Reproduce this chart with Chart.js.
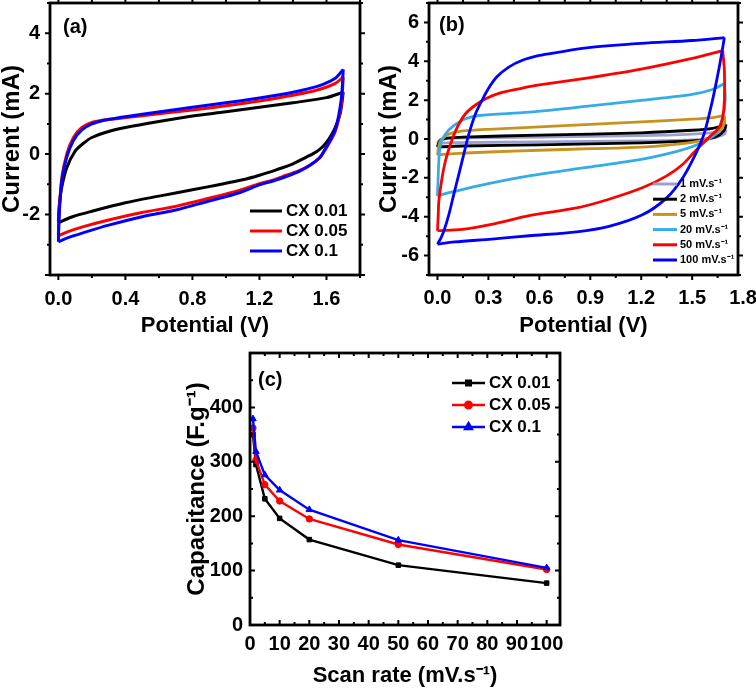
<!DOCTYPE html>
<html><head><meta charset="utf-8">
<script src="https://cdn.jsdelivr.net/npm/chart.js@4/dist/chart.umd.min.js"></script>
<style>
html,body{margin:0;padding:0;background:#fff;}
#wrap{position:relative;width:756px;height:688px;background:#fff;}
canvas{position:absolute;left:0;top:0;}
</style></head><body>
<div id="wrap">
<canvas id="ca" width="756" height="688"></canvas>
<canvas id="cb" width="756" height="688"></canvas>
<canvas id="cc" width="756" height="688"></canvas>
</div>
<script>
// ---------------- DATA ----------------
// Panel (a): CV curves (Potential V, Current mA), forward and reverse sweeps
const aNames = ['CX 0.01', 'CX 0.05', 'CX 0.1'];
const a001_fwdV = [0, 0.005, 0.02, 0.05, 0.1, 0.15, 0.2, 0.3, 0.4, 0.6, 0.8, 1.0, 1.2, 1.4, 1.6, 1.7];
const a001_fwdI = [-2.27, -1.7, -1.1, -0.45, 0.1, 0.36, 0.55, 0.75, 0.88, 1.08, 1.26, 1.40, 1.55, 1.70, 1.87, 2.05];
const a001_revV = [1.7, 1.69, 1.68, 1.65, 1.62, 1.58, 1.54, 1.48, 1.4, 1.3, 1.2, 1.1, 0.95, 0.8, 0.6, 0.4, 0.2, 0.08, 0];
const a001_revI = [2.05, 1.6, 1.3, 0.85, 0.55, 0.26, 0.08, -0.1, -0.32, -0.52, -0.7, -0.85, -1.02, -1.18, -1.39, -1.61, -1.89, -2.08, -2.27];
const a005_fwdV = [0, 0.005, 0.02, 0.05, 0.09, 0.14, 0.2, 0.28, 0.36, 0.5, 0.8, 1.0, 1.2, 1.4, 1.55, 1.65, 1.7];
const a005_fwdI = [-2.7, -1.9, -0.8, 0.0, 0.55, 0.88, 1.05, 1.14, 1.18, 1.27, 1.46, 1.6, 1.76, 1.95, 2.13, 2.33, 2.55];
const a005_revV = [1.7, 1.69, 1.67, 1.65, 1.62, 1.59, 1.56, 1.5, 1.44, 1.36, 1.28, 1.2, 1.08, 0.9, 0.7, 0.5, 0.3, 0.15, 0.05, 0];
const a005_revI = [2.55, 1.7, 1.1, 0.72, 0.4, 0.12, -0.12, -0.37, -0.54, -0.7, -0.86, -0.98, -1.2, -1.46, -1.73, -1.93, -2.18, -2.4, -2.58, -2.7];
const a01_fwdV = [0, 0.005, 0.02, 0.05, 0.09, 0.14, 0.2, 0.28, 0.36, 0.5, 0.8, 1.0, 1.2, 1.4, 1.55, 1.65, 1.7];
const a01_fwdI = [-2.9, -2.0, -0.9, -0.1, 0.45, 0.8, 1.0, 1.13, 1.2, 1.32, 1.55, 1.7, 1.86, 2.05, 2.25, 2.5, 2.8];
const a01_revV = [1.7, 1.69, 1.67, 1.65, 1.62, 1.59, 1.56, 1.5, 1.44, 1.36, 1.28, 1.2, 1.08, 0.9, 0.7, 0.5, 0.3, 0.15, 0.05, 0];
const a01_revI = [2.8, 1.9, 1.2, 0.78, 0.44, 0.15, -0.11, -0.38, -0.56, -0.74, -0.89, -1.02, -1.28, -1.55, -1.85, -2.07, -2.35, -2.6, -2.78, -2.9];
const aXTicks = [0.0, 0.4, 0.8, 1.2, 1.6];
const aYTicks = [-2, 0, 2, 4];

// Panel (b): CV of CX 0.1 at several scan rates
const bNames = ['1 mV.s\u207B\u00B9', '2 mV.s\u207B\u00B9', '5 mV.s\u207B\u00B9', '20 mV.s\u207B\u00B9', '50 mV.s\u207B\u00B9', '100 mV.s\u207B\u00B9'];
const b1_fwdV = [0, 0.005, 0.02, 0.08, 0.6, 1.2, 1.5, 1.65, 1.7];
const b1_fwdI = [-0.22, -0.12, -0.02, 0.04, 0.1, 0.17, 0.25, 0.35, 0.48];
const b1_revV = [1.7, 1.69, 1.62, 1.5, 1.2, 0.6, 0.1, 0];
const b1_revI = [0.48, 0.25, 0.05, -0.05, -0.1, -0.15, -0.19, -0.22];
const b2_fwdV = [0, 0.005, 0.02, 0.06, 0.15, 0.6, 1.2, 1.5, 1.62, 1.7];
const b2_fwdI = [-0.42, -0.25, -0.05, 0.05, 0.1, 0.2, 0.32, 0.45, 0.55, 0.75];
const b2_revV = [1.7, 1.69, 1.65, 1.58, 1.5, 1.2, 0.6, 0.15, 0.03, 0];
const b2_revI = [0.75, 0.45, 0.15, -0.02, -0.1, -0.2, -0.3, -0.36, -0.4, -0.42];
const b5_fwdV = [0, 0.005, 0.015, 0.04, 0.07, 0.14, 0.3, 0.6, 0.9, 1.2, 1.5, 1.62, 1.69];
const b5_fwdI = [-0.83, -0.5, -0.15, 0.1, 0.26, 0.4, 0.5, 0.62, 0.75, 0.88, 1.02, 1.1, 1.21];
const b5_revV = [1.69, 1.69, 1.66, 1.6, 1.5, 1.2, 0.9, 0.6, 0.3, 0.1, 0.02, 0];
const b5_revI = [1.21, 0.8, 0.4, 0.05, -0.17, -0.42, -0.5, -0.58, -0.67, -0.75, -0.8, -0.83];
const b20_fwdV = [0, 0.003, 0.008, 0.018, 0.047, 0.096, 0.165, 0.244, 0.54, 0.9, 1.2, 1.5, 1.62, 1.69];
const b20_fwdI = [-2.94, -2.2, -1.12, -0.26, 0.26, 0.69, 1.04, 1.21, 1.38, 1.7, 1.99, 2.3, 2.55, 2.85];
const b20_revV = [1.69, 1.695, 1.68, 1.64, 1.56, 1.5, 1.4, 1.2, 0.89, 0.54, 0.3, 0.1, 0.02, 0];
const b20_revI = [2.85, 2.0, 1.12, 0.26, -0.17, -0.4, -0.66, -1.05, -1.45, -1.9, -2.3, -2.7, -2.88, -2.94];
const b50_fwdV = [0, 0.004, 0.008, 0.027, 0.047, 0.077, 0.116, 0.165, 0.224, 0.29, 0.38, 0.5, 0.6, 0.89, 1.2, 1.5, 1.68];
const b50_fwdI = [-4.72, -4.0, -3.2, -1.99, -1.12, -0.26, 0.6, 1.3, 1.75, 2.1, 2.4, 2.62, 2.78, 3.15, 3.6, 4.15, 4.55];
const b50_revV = [1.68, 1.69, 1.69, 1.68, 1.66, 1.6, 1.52, 1.445, 1.35, 1.21, 1.01, 0.82, 0.54, 0.34, 0.145, 0];
const b50_revI = [4.55, 3.5, 2.0, 1.12, 0.6, 0.09, -0.6, -1.3, -1.9, -2.5, -3.1, -3.55, -3.95, -4.35, -4.65, -4.72];
const b100_fwdV = [0, 0.02, 0.037, 0.067, 0.096, 0.126, 0.155, 0.185, 0.224, 0.263, 0.3, 0.35, 0.42, 0.5, 0.6, 0.7, 0.89, 1.2, 1.5, 1.69];
const b100_fwdI = [-5.41, -5.1, -4.75, -3.89, -2.85, -1.81, -0.78, 0.26, 1.3, 2.0, 2.6, 3.2, 3.7, 4.05, 4.3, 4.45, 4.7, 4.92, 5.07, 5.22];
const b100_revV = [1.69, 1.66, 1.62, 1.57, 1.52, 1.445, 1.35, 1.21, 1.01, 0.82, 0.54, 0.32, 0.1, 0];
const b100_revI = [5.22, 3.72, 2.0, 0.26, -0.78, -1.99, -3.03, -3.89, -4.5, -4.78, -4.98, -5.15, -5.3, -5.41];
const bXTicks = [0.0, 0.3, 0.6, 0.9, 1.2, 1.5, 1.8];
const bYTicks = [-6, -4, -2, 0, 2, 4, 6];

// Panel (c): specific capacitance vs scan rate
const cNames = ['CX 0.01', 'CX 0.05', 'CX 0.1'];
const scanRates = [1, 2, 5, 10, 20, 50, 100];
const capCX001 = [350, 295, 232, 196, 157, 110, 77];
const capCX005 = [362, 303, 258, 228, 195, 148, 102];
const capCX01  = [379, 319, 276, 248, 212, 156, 105];
const cXTicks = [0, 10, 20, 30, 40, 50, 60, 70, 80, 90, 100];
const cYTicks = [0, 100, 200, 300, 400];

// ---------------- STYLE / HELPERS ----------------
const FONT = '"Liberation Sans", Arial, Helvetica, sans-serif';
Chart.defaults.font.family = FONT;
Chart.defaults.color = '#000';

const pts = (V, I) => V.map((v, k) => ({ x: v, y: I[k] }));

const frame = {
  id: 'frame',
  afterDatasetsDraw(chart, args, o) {
    const { ctx, chartArea: ca, scales } = chart;
    const xs = scales.x, ys = scales.y;
    const d = o.inward ? -1 : 1;
    const vals = (s, step) => {
      const out = [];
      for (let v = Math.ceil((s.min - 1e-9) / step) * step; v <= s.max + 1e-9; v += step) out.push(+v.toFixed(6));
      return out;
    };
    ctx.save();
    ctx.strokeStyle = '#000';
    ctx.lineWidth = o.tickWidth;
    ctx.beginPath();
    [[o.xMajor, o.majorLen], [o.xMinor, o.minorLen]].forEach(([st, len]) => {
      vals(xs, st).forEach(v => {
        const p = xs.getPixelForValue(v);
        ctx.moveTo(p, ca.bottom); ctx.lineTo(p, ca.bottom + d * len);
        ctx.moveTo(p, ca.top); ctx.lineTo(p, ca.top - d * len);
      });
    });
    [[o.yMajor, o.majorLen], [o.yMinor, o.minorLen]].forEach(([st, len]) => {
      vals(ys, st).forEach(v => {
        const p = ys.getPixelForValue(v);
        ctx.moveTo(ca.left, p); ctx.lineTo(ca.left - d * len, p);
        ctx.moveTo(ca.right, p); ctx.lineTo(ca.right + d * len, p);
      });
    });
    ctx.stroke();
    ctx.lineWidth = o.borderWidth;
    ctx.strokeRect(ca.left, ca.top, ca.right - ca.left, ca.bottom - ca.top);
    ctx.restore();
  }
};

const annot = {
  id: 'annot',
  afterDraw(chart, args, o) {
    const ctx = chart.ctx;
    ctx.save();
    ctx.fillStyle = '#000';
    ctx.textBaseline = 'middle';
    ctx.textAlign = 'left';
    ctx.font = `bold ${o.labelSize}px ${FONT}`;
    ctx.fillText(o.label, o.lx, o.ly);
    const items = chart.data.datasets.filter(ds => ds.legendLabel);
    items.forEach((ds, i) => {
      const yy = o.y0 + i * o.dy;
      ctx.strokeStyle = ds.borderColor;
      ctx.lineWidth = o.lw;
      ctx.beginPath(); ctx.moveTo(o.x0, yy); ctx.lineTo(o.x1, yy); ctx.stroke();
      if (ds.pointStyle && ds.pointRadius > 0) {
        ctx.fillStyle = ds.borderColor;
        Chart.helpers.drawPoint(ctx, { pointStyle: ds.pointStyle, radius: ds.pointRadius, rotation: 0, borderWidth: 1 }, (o.x0 + o.x1) / 2, yy);
      }
      ctx.fillStyle = '#000';
      ctx.font = `bold ${o.fontSize}px ${FONT}`;
      ctx.fillText(ds.legendLabel, o.tx, yy);
    });
    ctx.restore();
  }
};

function axes(cfg) {
  const tickFont = { size: 20, weight: 'bold' };
  const titleFont = { size: cfg.titleSize || 22, weight: 'bold', lineHeight: 1 };
  return {
    x: {
      type: 'linear', min: cfg.xmin, max: cfg.xmax,
      grid: { display: false, drawTicks: false, tickLength: 0 }, border: { display: false },
      afterBuildTicks: s => { s.ticks = cfg.xTicks.map(v => ({ value: v })); },
      afterFit: s => { s.height = cfg.xH; s.paddingLeft = 0; s.paddingRight = 0; },
      ticks: { font: tickFont, color: '#000', padding: cfg.xPad, autoSkip: false, maxRotation: 0, minRotation: 0, callback: cfg.xFmt },
      title: { display: true, text: cfg.xTitle, font: titleFont, color: '#000', padding: { top: 0, bottom: cfg.xTitlePad } }
    },
    y: {
      type: 'linear', min: cfg.ymin, max: cfg.ymax,
      grid: { display: false, drawTicks: false, tickLength: 0 }, border: { display: false },
      afterBuildTicks: s => { s.ticks = cfg.yTicks.map(v => ({ value: v })); },
      afterFit: s => { s.width = cfg.yW; s.paddingTop = 0; s.paddingBottom = 0; },
      ticks: { font: tickFont, color: '#000', padding: cfg.yPad, autoSkip: false, callback: v => String(v) },
      title: { display: true, text: cfg.yTitle, font: { size: cfg.yTitleSize || 24, weight: 'bold', lineHeight: 1 }, color: '#000', padding: { top: cfg.yTitlePad, bottom: 0 } }
    }
  };
}

function loopSets(name, color, fV, fI, rV, rI, lw, order) {
  const base = { showLine: true, pointRadius: 0, borderColor: color, backgroundColor: color, borderWidth: lw, tension: 0.3, order: order, fill: false };
  return [
    Object.assign({ data: pts(fV, fI), legendLabel: name }, base),
    Object.assign({ data: pts(rV, rI) }, base)
  ];
}

const common = { responsive: false, animation: false, devicePixelRatio: 1, events: [] };

// ---------------- PANEL (a) ----------------
new Chart(document.getElementById('ca'), {
  type: 'scatter',
  data: { datasets: [
    ...loopSets(aNames[0], '#000000', a001_fwdV, a001_fwdI, a001_revV, a001_revI, 3, 3),
    ...loopSets(aNames[1], '#ff0000', a005_fwdV, a005_fwdI, a005_revV, a005_revI, 3, 2),
    ...loopSets(aNames[2], '#0000ff', a01_fwdV, a01_fwdI, a01_revV, a01_revI, 3, 1)
  ]},
  options: Object.assign({}, common, {
    layout: { padding: { left: 0, right: 396, top: 3, bottom: 350 } },
    scales: axes({ xmin: -0.05, xmax: 1.8, ymin: -4, ymax: 5, xTicks: aXTicks, yTicks: aYTicks,
      xFmt: v => v.toFixed(1), xH: 63, yW: 50, xPad: 12, yPad: 10, xTitle: 'Potential (V)', xTitlePad: 1,
      yTitle: 'Current (mA)', yTitlePad: 0 }),
    plugins: { legend: { display: false }, tooltip: { enabled: false },
      frame: { inward: false, xMajor: 0.4, xMinor: 0.2, yMajor: 2, yMinor: 1, majorLen: 5, minorLen: 3, tickWidth: 2, borderWidth: 2.8 },
      annot: { label: '(a)', lx: 63, ly: 27, labelSize: 20, x0: 250, x1: 282, tx: 286, y0: 211, dy: 20, lw: 3, fontSize: 17 } }
  }),
  plugins: [frame, annot]
});

// ---------------- PANEL (b) ----------------
const bColors = ['#9a9fcf', '#000000', '#c8921e', '#35ace6', '#ff0000', '#0000ff'];
new Chart(document.getElementById('cb'), {
  type: 'scatter',
  data: { datasets: [
    ...loopSets(bNames[0], bColors[0], b1_fwdV, b1_fwdI, b1_revV, b1_revI, 2.8, 6),
    ...loopSets(bNames[1], bColors[1], b2_fwdV, b2_fwdI, b2_revV, b2_revI, 2.8, 5),
    ...loopSets(bNames[2], bColors[2], b5_fwdV, b5_fwdI, b5_revV, b5_revI, 2.8, 4),
    ...loopSets(bNames[3], bColors[3], b20_fwdV, b20_fwdI, b20_revV, b20_revI, 2.8, 3),
    ...loopSets(bNames[4], bColors[4], b50_fwdV, b50_fwdI, b50_revV, b50_revI, 2.8, 2),
    ...loopSets(bNames[5], bColors[5], b100_fwdV, b100_fwdI, b100_revV, b100_revI, 2.8, 1)
  ]},
  options: Object.assign({}, common, {
    layout: { padding: { left: 374, right: 18, top: 3, bottom: 350 } },
    scales: axes({ xmin: -0.05, xmax: 1.77, ymin: -7, ymax: 7, xTicks: bXTicks, yTicks: bYTicks,
      xFmt: v => v.toFixed(1), xH: 63, yW: 55, xPad: 11, yPad: 10, xTitle: 'Potential (V)', xTitlePad: 1,
      yTitle: 'Current (mA)', yTitlePad: 3 }),
    plugins: { legend: { display: false }, tooltip: { enabled: false },
      frame: { inward: false, xMajor: 0.3, xMinor: 0.15, yMajor: 2, yMinor: 1, majorLen: 5, minorLen: 3, tickWidth: 2, borderWidth: 2.8 },
      annot: { label: '(b)', lx: 439, ly: 25, labelSize: 20, x0: 653, x1: 677, tx: 680, y0: 184, dy: 15.2, lw: 3, fontSize: 11 } }
  }),
  plugins: [frame, annot]
});

// ---------------- PANEL (c) ----------------
const cSet = (name, color, vals, style, r, order) => ({
  data: pts(scanRates, vals), legendLabel: name, showLine: true, borderColor: color, backgroundColor: color,
  borderWidth: 2.4, pointStyle: style, pointRadius: r, pointBorderWidth: 1, tension: 0, order: order
});
new Chart(document.getElementById('cc'), {
  type: 'scatter',
  data: { datasets: [
    cSet(cNames[0], '#000000', capCX001, 'rect', 3.2, 3),
    cSet(cNames[1], '#ff0000', capCX005, 'circle', 3.2, 2),
    cSet(cNames[2], '#0000ff', capCX01, 'triangle', 3.8, 1)
  ]},
  options: Object.assign({}, common, {
    layout: { padding: { left: 185, right: 196, top: 353, bottom: 0 } },
    scales: axes({ xmin: 0, xmax: 104.5, ymin: 0, ymax: 500, xTicks: cXTicks, yTicks: cYTicks,
      xFmt: v => String(v), xH: 63, yW: 65, xPad: 7, yPad: 7, xTitle: 'Scan rate (mV.s\u207B\u00B9)', xTitlePad: 1,
      yTitle: 'Capacitance (F.g\u207B\u00B9)', yTitlePad: 0 }),
    plugins: { legend: { display: false }, tooltip: { enabled: false },
      frame: { inward: true, xMajor: 10, xMinor: 5, yMajor: 100, yMinor: 50, majorLen: 5, minorLen: 3, tickWidth: 2, borderWidth: 2.8 },
      annot: { label: '(c)', lx: 258, ly: 380, labelSize: 20, x0: 452, x1: 485, tx: 489, y0: 383, dy: 22, lw: 2.5, fontSize: 17 } }
  }),
  plugins: [frame, annot]
});
</script>
</body></html>
